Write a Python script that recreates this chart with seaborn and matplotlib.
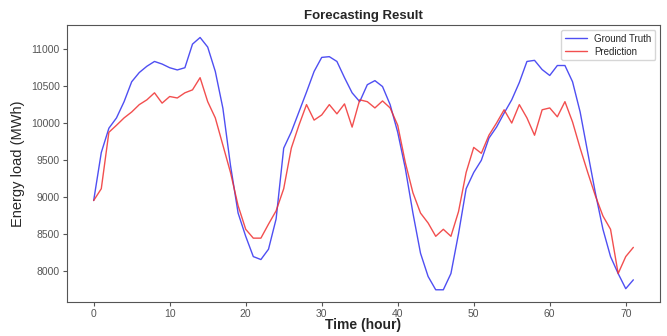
import matplotlib
matplotlib.use("Agg")
import matplotlib.pyplot as plt
import seaborn as sns
import pandas as pd

# hourly values
hours = list(range(72))

ground_truth = [
    8950, 9600, 9930, 10070, 10290, 10560, 10685, 10770, 10835, 10800,
    10750, 10720, 10750, 11070, 11160, 11030, 10700, 10200, 9425, 8780,
    8465, 8190, 8150, 8290, 8700, 9660, 9880, 10150, 10420, 10700,
    10890, 10900, 10835, 10615, 10410, 10290, 10520, 10575, 10495, 10250,
    9875, 9385, 8780, 8235, 7920, 7740, 7740, 7960, 8500, 9110,
    9330, 9495, 9795, 9945, 10135, 10315, 10550, 10835, 10850, 10725,
    10645, 10780, 10780, 10560, 10150, 9600, 9055, 8560, 8190, 7960,
    7755, 7875,
]

prediction = [
    8950, 9110, 9875, 9970, 10070, 10150, 10250, 10315, 10410, 10270,
    10360, 10340, 10410, 10450, 10615, 10290, 10070, 9700, 9330, 8880,
    8560, 8440, 8440, 8630, 8810, 9110, 9660, 9970, 10250, 10040,
    10110, 10250, 10125, 10260, 9945, 10315, 10290, 10205, 10300, 10205,
    9970, 9465, 9055, 8780, 8645, 8465, 8560, 8465, 8800, 9330,
    9670, 9590, 9835, 10000, 10180, 10000, 10250, 10070, 9835, 10180,
    10205, 10085, 10290, 10015, 9660, 9330, 9015, 8740, 8560, 7960,
    8190, 8315,
]

series_names = ["Ground Truth", "Prediction"]
y_ticks = [8000, 8500, 9000, 9500, 10000, 10500, 11000]
x_ticks = [0, 10, 20, 30, 40, 50, 60, 70]


def plot_forecast():
    data = pd.DataFrame({
        "hour": hours * 2,
        "load": ground_truth + prediction,
        "series": [series_names[0]] * len(hours) + [series_names[1]] * len(hours),
    })

    sns.set_style("ticks", {"axes.edgecolor": "#555555"})
    plt.rcParams["font.family"] = ["Liberation Sans", "DejaVu Sans"]

    fig = plt.figure(figsize=(6.67, 3.36), dpi=100)
    ax = fig.add_axes([0.100, 0.100, 0.890, 0.826])

    sns.lineplot(x="hour", y="load", hue="series", data=data, ax=ax,
                 palette={"Ground Truth": "#3030f0", "Prediction": "#f03030"},
                 linewidth=1.0, alpha=0.85)

    ax.set_xticks(x_ticks)
    ax.set_yticks(y_ticks)
    ax.tick_params(labelsize=7.5, colors="#555555", length=3, pad=2)
    ax.set_title("Forecasting Result", fontsize=9.5, fontweight="bold", pad=4)
    ax.set_xlabel("Time (hour)", fontsize=10, fontweight="bold", labelpad=-1)
    ax.set_ylabel("Energy load (MWh)", fontsize=10.5, labelpad=4)

    ax.legend(loc="upper right", fontsize=7, frameon=True, borderpad=0.4,
              handlelength=2.2, labelspacing=0.3)

    plt.savefig("out.png", dpi=100)


plot_forecast()
